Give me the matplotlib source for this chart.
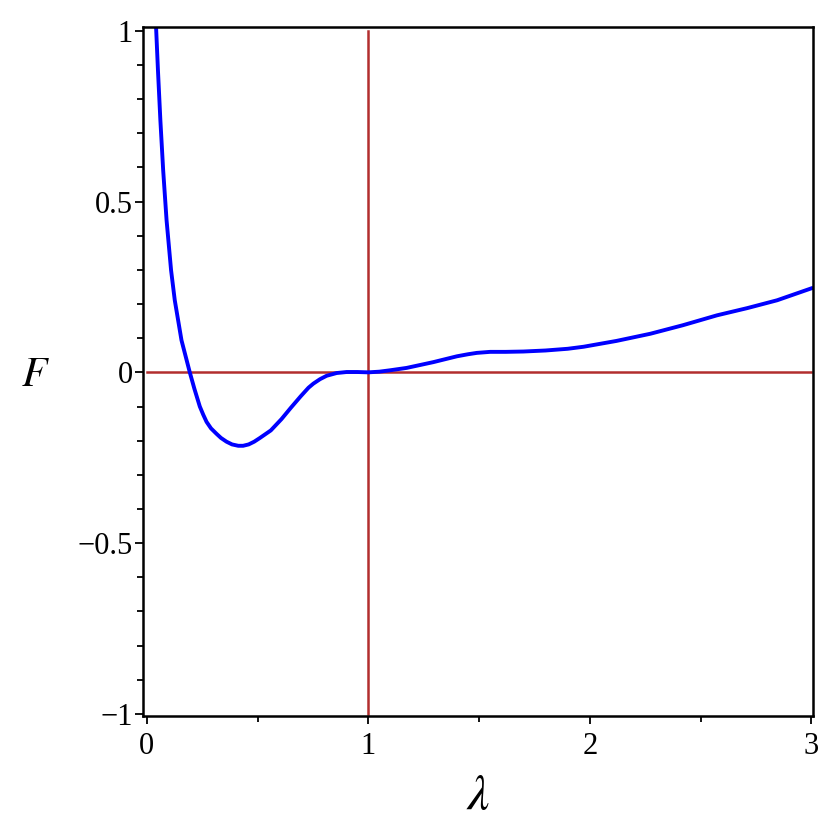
import matplotlib
matplotlib.use("Agg")
import matplotlib.pyplot as plt
from matplotlib.ticker import MultipleLocator

lam = [0.035, 0.0407, 0.0506, 0.0615, 0.0741, 0.0895, 0.1098, 0.1265, 0.1568, 0.1943,
       0.215, 0.2395, 0.255, 0.27, 0.29, 0.315, 0.335, 0.36, 0.385, 0.413, 0.435, 0.46,
       0.485, 0.511, 0.56, 0.608, 0.65, 0.695, 0.73, 0.752, 0.782, 0.812, 0.857, 0.902,
       0.95, 1.0, 1.05, 1.098, 1.173, 1.23, 1.294, 1.35, 1.40, 1.45, 1.49, 1.55, 1.62,
       1.70, 1.80, 1.90, 1.972, 2.12, 2.273, 2.42, 2.574, 2.71, 2.845, 3.0]
F = [1.11, 1.031, 0.884, 0.738, 0.592, 0.445, 0.299, 0.211, 0.094, 0.0,
     -0.048, -0.100, -0.124, -0.145, -0.164, -0.180, -0.192, -0.203, -0.211, -0.215, -0.215, -0.211,
     -0.203, -0.192, -0.170, -0.137, -0.104, -0.070, -0.045, -0.033, -0.020, -0.010, -0.002, 0.001,
     0.001, 0.0, 0.002, 0.006, 0.013, 0.021, 0.030, 0.039, 0.047, 0.053, 0.057, 0.060, 0.060,
     0.061, 0.064, 0.069, 0.075, 0.092, 0.113, 0.138, 0.167, 0.188, 0.211, 0.246]

plt.rcParams['font.family'] = ['Liberation Serif', 'DejaVu Serif']
plt.rcParams['mathtext.fontset'] = 'stix'

fig = plt.figure(figsize=(8.3, 8.3), dpi=100)
ax = fig.add_axes([0.172, 0.137, 0.808, 0.830])

red = '#B22E2E'
ax.plot([0, 3], [0, 0], color=red, lw=1.8, zorder=1)
ax.plot([1, 1], [-1, 1], color=red, lw=1.8, zorder=1)
ax.plot(lam, F, color='#0000FF', lw=2.8, zorder=2, solid_joinstyle='round')

ax.set_xlim(-0.018, 3.009)
ax.set_ylim(-1.007, 1.01)

ax.xaxis.set_minor_locator(MultipleLocator(0.5))
ax.yaxis.set_minor_locator(MultipleLocator(0.1))
ax.set_xticks([0, 1, 2, 3])
ax.set_xticklabels(['0', '1', '2', '3'])
ax.set_yticks([-1, -0.5, 0, 0.5, 1])
ax.set_yticklabels(['\u22121', '\u22120.5', '0', '0.5', '1'])

ax.tick_params(which='major', length=6, width=1.3, labelsize=22, pad=1)
ax.tick_params(axis='x', which='major', pad=5)
ax.tick_params(which='minor', length=4, width=1.3)
for s in ax.spines.values():
    s.set_linewidth(1.8)

ax.set_xlabel('$\\lambda$', fontsize=36, labelpad=9)
ax.set_ylabel('$F$', fontsize=30, rotation=0, va='center', ha='center')
ax.yaxis.set_label_coords(-0.16, 0.495)

fig.savefig('out.png', dpi=100)
